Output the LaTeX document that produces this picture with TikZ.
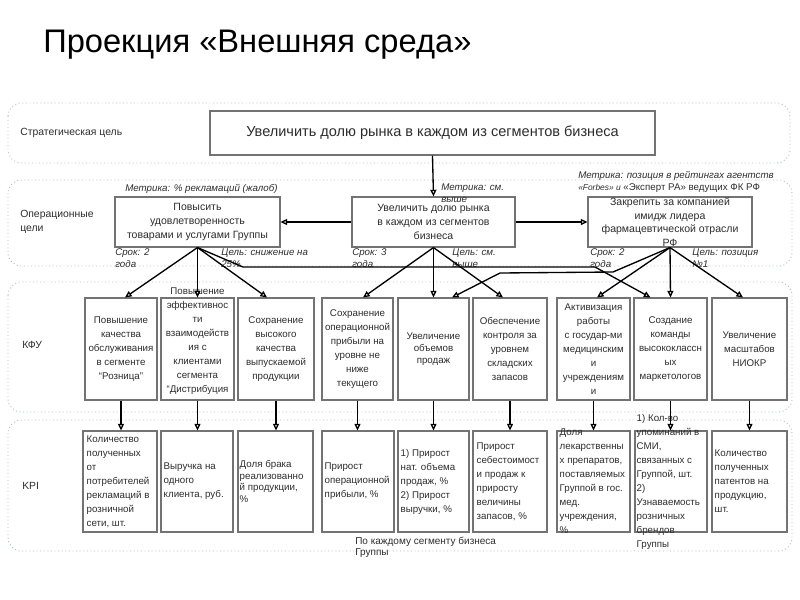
\documentclass[tikz,border=0pt]{standalone}
\usepackage{fontspec}
\setmainfont{Liberation Sans}
\usetikzlibrary{arrows.meta,calc}
\definecolor{bandcol}{RGB}{170,186,210}
\definecolor{boxline}{RGB}{115,115,115}
\definecolor{txt}{RGB}{45,45,45}
\begin{document}
\begin{tikzpicture}[x=0.75pt,y=-0.75pt,
  bandbox/.style={draw=bandcol, dotted, line width=0.7pt, rounded corners=10pt},
  boxsize/.style 2 args={minimum width=#1*0.75pt, minimum height=#2*0.75pt},
  goalbox/.style={draw=boxline, line width=0.8pt, fill=white, inner sep=0pt},
  cellbox/.style={draw=boxline, line width=0.8pt, fill=white, inner sep=0pt},
  optext/.style={align=center, inner sep=0pt, text=txt, font=\fontsize{7.9}{10.2}\selectfont},
  celltext/.style={align=center, inner sep=0pt, text=txt, font=\fontsize{7.3}{10.5}\selectfont},
  kpitext/.style={align=left, inner sep=0pt, anchor=west, text=txt, font=\fontsize{7.3}{10.5}\selectfont},
  lbl/.style={align=left, inner sep=0pt, anchor=west, text=txt, font=\fontsize{7.3}{9}\selectfont\itshape},
  bandlbl/.style={align=left, inner sep=0pt, anchor=west, text=txt, font=\fontsize{7.8}{10.5}\selectfont},
  conn/.style={line width=1pt, -{Triangle[open,length=5pt,width=4.5pt]}}
]
\useasboundingbox (0,0) rectangle (800,600);

% title
\node[anchor=base west, inner sep=0pt, font=\fontsize{24.5}{28}\selectfont] (title) at (43,52) {Проекция «Внешняя среда»};

% bands
\draw[bandbox] (8,103) rectangle (790,163);
\draw[bandbox] (8,180) rectangle (792,266);
\draw[bandbox] (8,282) rectangle (792,412);
\draw[bandbox] (8,420) rectangle (792,551);

\node[bandlbl] (l1) at (20,133) {Стратегическая цель};
\node[bandlbl] (l2) at (20,222) {Операционные\\цели};
\node[bandlbl] (l3) at (22,345) {КФУ};
\node[bandlbl] (l4) at (22,486) {KPI};

% strategic goal
\node[goalbox, line width=1.1pt, boxsize={445}{44}, text=txt, font=\fontsize{10.9}{12}\selectfont] (sg) at (432.5,133) {Увеличить долю рынка в каждом из сегментов бизнеса};

% operational goals
\node[goalbox, boxsize={165}{50}] (o1) at (197.5,222) {};
\node[goalbox, boxsize={163}{50}] (o2) at (433.5,222) {};
\node[goalbox, boxsize={164}{50}] (o3) at (670,222) {};
\node[optext] (o1t) at (o1) {Повысить\\удовлетворенность\\товарами и услугами Группы};
\node[optext] (o2t) at (o2) {Увеличить долю рынка\\в каждом из сегментов\\бизнеса};
\node[optext] (o3t) at (o3) {Закрепить за компанией\\имидж лидера\\фармацевтической отрасли\\РФ};

% italic labels
\node[lbl] (m1) at (125,189) {Метрика: \% рекламаций (жалоб)};
\node[lbl] (s1) at (115,258) {Срок: 2\\года};
\node[lbl] (c1) at (221,258) {Цель: снижение на\\25\%};
\node[lbl] (m2) at (441,193) {Метрика: см.\\выше};
\node[lbl] (s2) at (352,258) {Срок: 3\\года};
\node[lbl] (c2) at (452,258) {Цель: см.\\выше};
\node[lbl] (m3) at (578,182) {Метрика: позиция в рейтингах агентств\\{\fontsize{6.3}{9}\selectfont«Forbes» и} \upshape«Эксперт РА» ведущих ФК РФ};
\node[lbl] (s3) at (590,258) {Срок: 2\\года};
\node[lbl] (c3) at (692,258) {Цель: позиция\\№1};

% KFU boxes
\node[cellbox, boxsize={72}{102}] (k1) at (121,349) {};
\node[cellbox, boxsize={73}{102}] (k2) at (197.5,349) {};
\node[cellbox, boxsize={76}{102}] (k3) at (276,349) {};
\node[cellbox, boxsize={71}{102}] (k4) at (357.5,349) {};
\node[cellbox, boxsize={71}{102}] (k5) at (433.5,349) {};
\node[cellbox, boxsize={74}{102}] (k6) at (510,349) {};
\node[cellbox, boxsize={73}{102}] (k7) at (593.5,349) {};
\node[cellbox, boxsize={73}{102}] (k8) at (670.5,349) {};
\node[cellbox, boxsize={75}{102}] (k9) at (749.5,349) {};

\node[celltext] (k1t) at (k1) {Повышение\\качества\\обслуживания\\в сегменте\\“Розница”};
\node[celltext] (k2t) at ($(k2)+(0,-8)$) {Повышение\\эффективнос\\ти\\взаимодейств\\ия с\\клиентами\\сегмента\\“Дистрибуция};
\node[celltext] (k3t) at (k3) {Сохранение\\высокого\\качества\\выпускаемой\\продукции};
\node[celltext] (k4t) at (k4) {Сохранение\\операционной\\прибыли на\\уровне не\\ниже\\текущего};
\node[celltext, font=\fontsize{7.3}{8.8}\selectfont] (k5t) at (k5) {Увеличение\\объемов\\продаж};
\node[celltext] (k6t) at (k6) {Обеспечение\\контроля за\\уровнем\\складских\\запасов};
\node[celltext] (k7t) at (k7) {Активизация\\работы\\с государ-ми\\медицинским\\и\\учреждениям\\и};
\node[celltext] (k8t) at (k8) {Создание\\команды\\высококлассн\\ых\\маркетологов};
\node[celltext] (k9t) at (k9) {Увеличение\\масштабов\\НИОКР};

% KPI boxes
\node[cellbox, boxsize={74}{101}] (p1) at (120,481.5) {};
\node[cellbox, boxsize={72}{101}] (p2) at (197,481.5) {};
\node[cellbox, boxsize={75}{101}] (p3) at (275.5,481.5) {};
\node[cellbox, boxsize={72}{101}] (p4) at (358,481.5) {};
\node[cellbox, boxsize={71}{101}] (p5) at (433.5,481.5) {};
\node[cellbox, boxsize={74}{101}] (p6) at (510,481.5) {};
\node[cellbox, boxsize={73}{101}] (p7) at (593.5,481.5) {};
\node[cellbox, boxsize={72}{101}] (p8) at (671,481.5) {};
\node[cellbox, boxsize={75}{101}] (p9) at (749.5,481.5) {};

\node[kpitext] (p1t) at ($(p1.west)+(4,0)$) {Количество\\полученных\\от\\потребителей\\рекламаций в\\розничной\\сети, шт.};
\node[kpitext] (p2t) at ($(p2.west)+(3,0)$) {Выручка на\\одного\\клиента, руб.};
\node[kpitext, font=\fontsize{7.3}{8.6}\selectfont] (p3t) at ($(p3.west)+(2,0)$) {Доля брака\\реализованно\\й продукции,\\\%};
\node[kpitext] (p4t) at ($(p4.west)+(3,0)$) {Прирост\\операционной\\прибыли, \%};
\node[kpitext] (p5t) at ($(p5.west)+(3,0)$) {1) Прирост\\нат. объема\\продаж, \%\\2) Прирост\\выручки, \%};
\node[kpitext] (p6t) at ($(p6.west)+(4,0)$) {Прирост\\себестоимост\\и продаж к\\приросту\\величины\\запасов, \%};
\node[kpitext] (p7t) at ($(p7.west)+(3,0)$) {Доля\\лекарственны\\х препаратов,\\поставляемых\\Группой в гос.\\мед.\\учреждения,\\\%};
\node[kpitext] (p8t) at ($(p8.west)+(2,0)$) {1) Кол-во\\упоминаний в\\СМИ,\\связанных с\\Группой, шт.\\2)\\Узнаваемость\\розничных\\брендов\\Группы};
\node[kpitext] (p9t) at ($(p9.west)+(3,0)$) {Количество\\полученных\\патентов на\\продукцию,\\шт.};

\node[kpitext, font=\fontsize{7.5}{8.3}\selectfont] (note) at (355,547) {По каждому сегменту бизнеса\\Группы};

% bend points
\coordinate (b1) at (243,267);
\coordinate (b2) at (595,267);
\coordinate (b3) at (613,272);
\coordinate (b4) at (500,273);

% connectors
\draw[conn] (sg.south) -- (o2.north);
\draw[conn] (o2.west) -- (o1.east);
\draw[conn] (o2.east) -- (o3.west);

\draw[conn] (o1.south) -- ($(k1.north)+(4,0)$);
\draw[conn] (o1.south) -- (k2.north);
\draw[conn] (o1.south) -- ($(k3.north)+(-9,0)$);
\draw[conn] (o1.south) -- (b1) -- (b2) -- ($(k8.north)+(-20,0)$);

\draw[conn] (o2.south) -- ($(k4.north)+(5.5,0)$);
\draw[conn] (o2.south) -- (k5.north);
\draw[conn] (o2.south) -- ($(k6.north)+(-7,0)$);

\draw[conn] (o3.south) -- (b3) -- (b4) -- ($(k5.north)+(18.5,0)$);
\draw[conn] (o3.south) -- ($(k7.north)+(3.5,0)$);
\draw[conn] (o3.south) -- (k8.north);
\draw[conn] (o3.south) -- ($(k9.north)+(-6.5,0)$);

\foreach \i in {1,...,9}{
  \draw[conn] (k\i.south) -- (k\i.south |- p\i.north);
}
\end{tikzpicture}
\end{document}
